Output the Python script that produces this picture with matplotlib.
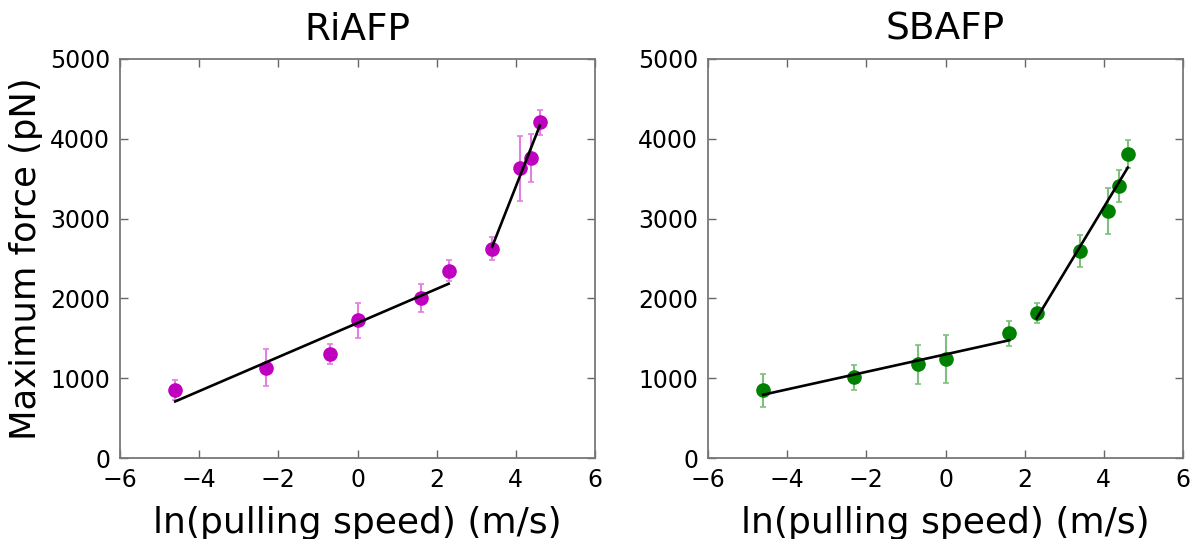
import numpy as np
import matplotlib
matplotlib.use("Agg")
import matplotlib.pyplot as plt

# pulling speeds (m/s) -> ln
speeds = [0.01, 0.1, 0.5, 1, 5, 10, 30, 60, 80, 100]
ln_speed = np.log(speeds)

riafp_force = [848, 1132, 1308, 1728, 2000, 2348, 2625, 3628, 3757, 4206]
riafp_err = [125, 230, 125, 218, 175, 135, 140, 410, 300, 160]
riafp_split = 6  # first 6 points low-speed regime

sbafp_force = [849, 1009, 1175, 1242, 1561, 1812, 2593, 3095, 3409, 3807]
sbafp_err = [205, 157, 245, 300, 157, 125, 200, 290, 200, 178]
sbafp_split = 5

titles = ["RiAFP", "SBAFP"]
colors = ["#bf00bf", "#008000"]
ecolors = ["#e27fe2", "#7fc07f"]

fig = plt.figure(figsize=(11.96, 5.39), dpi=100)
W, H = 1196, 539
ax1 = fig.add_axes([120 / W, 1 - 458 / H, 475 / W, 399 / H])
ax2 = fig.add_axes([708 / W, 1 - 458 / H, 475 / W, 399 / H])

datasets = [(riafp_force, riafp_err, riafp_split), (sbafp_force, sbafp_err, sbafp_split)]
for ax, (f, e, s), t, c, ec in zip([ax1, ax2], datasets, titles, colors, ecolors):
    f = np.array(f, float)
    ax.errorbar(ln_speed, f, yerr=e, fmt="o", color=c, ecolor=ec, mec=c,
                markersize=9.5, elinewidth=1.5, capsize=2.5, capthick=1.2, zorder=3)
    for seg in (slice(0, s), slice(s, None)):
        xs = ln_speed[seg]
        p = np.polyfit(xs, f[seg], 1)
        xx = np.array([xs.min(), xs.max()])
        ax.plot(xx, np.polyval(p, xx), color="black", lw=1.9, zorder=4)
    ax.set_xlim(-6, 6)
    ax.set_ylim(0, 5000)
    ax.set_xticks([-6, -4, -2, 0, 2, 4, 6])
    ax.set_yticks([0, 1000, 2000, 3000, 4000, 5000])
    ax.tick_params(direction="in", length=6, width=1, labelsize=17, pad=7,
                   top=True, right=True, color="#666666")
    for sp in ax.spines.values():
        sp.set_color("#777777")
        sp.set_linewidth(1.3)
    ax.set_title(t, fontsize=27, pad=14)
    ax.set_xlabel("ln(pulling speed) (m/s)", fontsize=26, labelpad=10)

ax1.set_ylabel("Maximum force (pN)", fontsize=25.5, labelpad=5)

fig.savefig("out.png", dpi=100)
